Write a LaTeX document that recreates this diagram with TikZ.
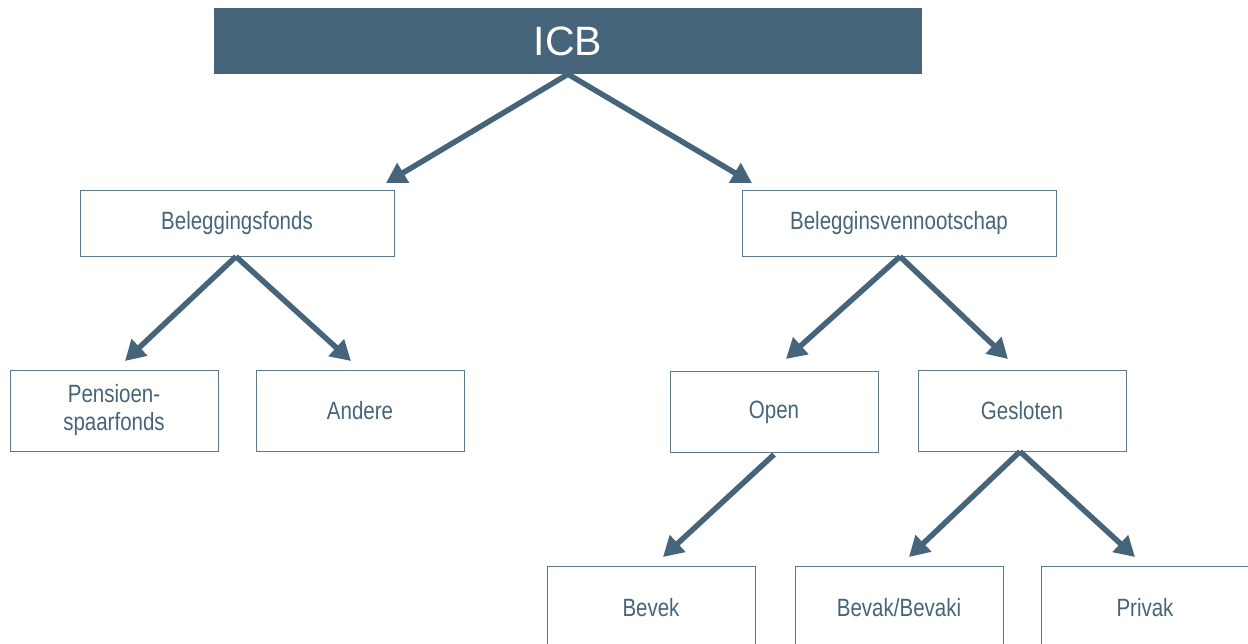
\documentclass[tikz,border=0pt]{standalone}
\usepackage{fontspec}
\setmainfont{Liberation Sans}[FakeStretch=0.82]
\newfontfamily\icbfont{Liberation Sans}
\usetikzlibrary{arrows.meta}
\definecolor{mainblue}{HTML}{47657A}
\definecolor{boxline}{HTML}{5E788A}
\tikzset{
  boxnode/.style={draw=boxline, line width=1pt, fill=white, text=mainblue, font=\fontsize{25}{28}\selectfont, align=center, inner sep=0pt},
  conn/.style={draw=mainblue, line width=5.5pt, -{Triangle[length=20pt,width=22pt]}}
}
\begin{document}
\begin{tikzpicture}[x=1pt,y=-1pt]
\useasboundingbox (0,0) rectangle (1248,643);
\clip (0,0) rectangle (1248,643);
\node[fill=mainblue, text=white, font=\icbfont\fontsize{41}{45}\selectfont, minimum width=708pt, minimum height=66pt, inner sep=0pt] (icb) at (568,41) {ICB};
\node[boxnode, minimum width=314pt, minimum height=66pt] (bf) at (237,223) {Beleggingsfonds};
\node[boxnode, minimum width=314pt, minimum height=66pt] (bv) at (899,223) {Belegginsvennootschap};
\node[boxnode, minimum width=208pt, minimum height=81pt] (ps) at (114,410.5) {Pensioen-\\spaarfonds};
\node[boxnode, minimum width=208pt, minimum height=81pt] (an) at (360,410.5) {Andere};
\node[boxnode, minimum width=208pt, minimum height=81pt] (op) at (774,412) {Open};
\node[boxnode, minimum width=208pt, minimum height=81pt] (gs) at (1022,410.5) {Gesloten};
\node[boxnode, minimum width=208pt, minimum height=84pt] (bk) at (651,608) {Bevek};
\node[boxnode, minimum width=208pt, minimum height=84pt] (bb) at (899,608) {Bevak/Bevaki};
\node[boxnode, minimum width=208pt, minimum height=84pt] (pv) at (1145,608) {Privak};
\coordinate (t1) at (386,183);
\coordinate (t2) at (752,183);
\coordinate (t3) at (125,361);
\coordinate (t4) at (351,361);
\coordinate (t5) at (786,359);
\coordinate (t6) at (1008,359);
\coordinate (t7) at (663,557);
\coordinate (t8) at (909,557);
\coordinate (t9) at (1135,557);
\draw[conn] (icb.south) -- (t1);
\draw[conn] (icb.south) -- (t2);
\draw[conn] ([xshift=-1pt]bf.south) -- (t3);
\draw[conn] ([xshift=-1pt]bf.south) -- (t4);
\draw[conn] ([xshift=1pt]bv.south) -- (t5);
\draw[conn] ([xshift=1pt]bv.south) -- (t6);
\draw[conn] ([yshift=-1.5pt]op.south) -- (t7);
\draw[conn] ([xshift=-2pt]gs.south) -- (t8);
\draw[conn] ([xshift=-2pt]gs.south) -- (t9);
\end{tikzpicture}
\end{document}
